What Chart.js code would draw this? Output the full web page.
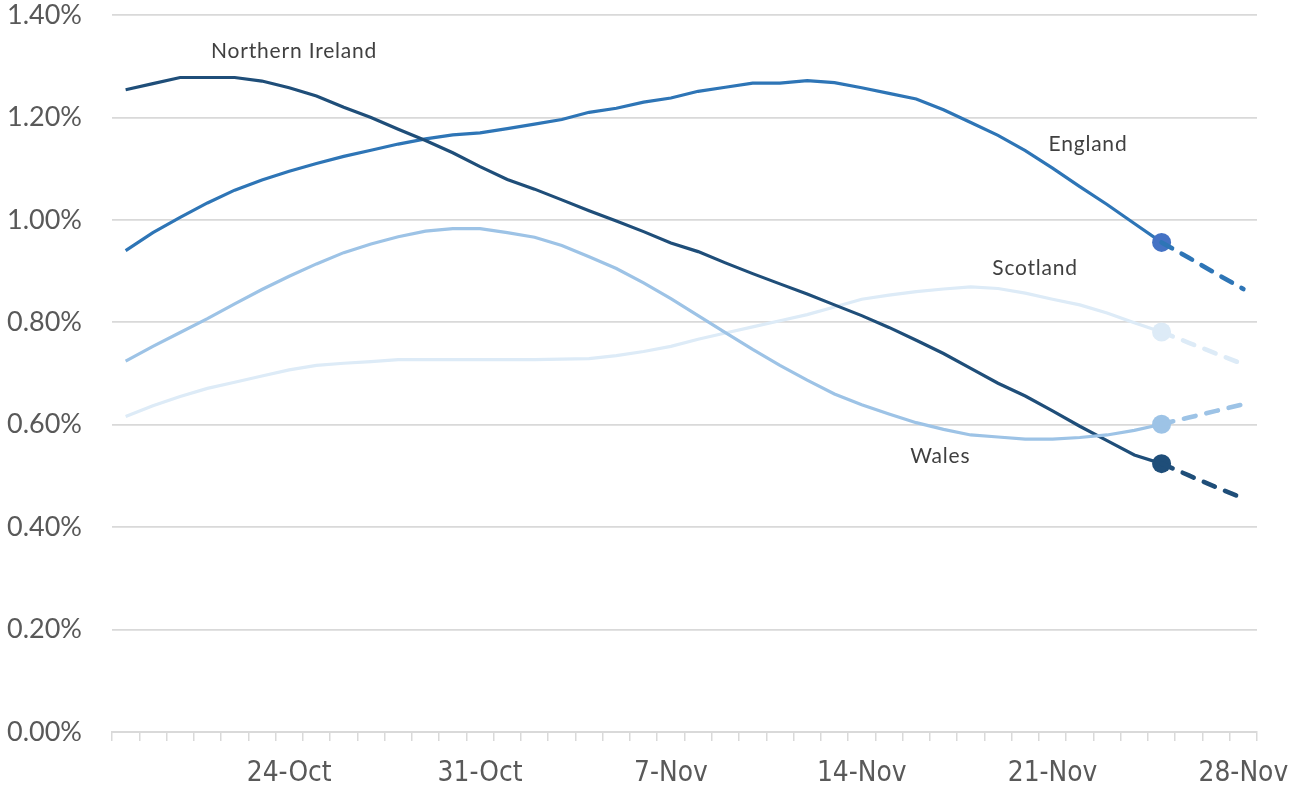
<!DOCTYPE html>
<html><head><meta charset="utf-8">
<script src="https://cdn.jsdelivr.net/npm/chart.js@4"></script>
<style>html,body{margin:0;padding:0;background:#fff}#wrap{width:1291px;height:787px;position:relative}</style>
</head><body><div id="wrap"><canvas id="c"></canvas></div>
<script>
// Category labels: one per day
const dates = ['18-Oct','19-Oct','20-Oct','21-Oct','22-Oct','23-Oct','24-Oct','25-Oct','26-Oct','27-Oct','28-Oct','29-Oct','30-Oct','31-Oct',
  '1-Nov','2-Nov','3-Nov','4-Nov','5-Nov','6-Nov','7-Nov','8-Nov','9-Nov','10-Nov','11-Nov','12-Nov','13-Nov','14-Nov',
  '15-Nov','16-Nov','17-Nov','18-Nov','19-Nov','20-Nov','21-Nov','22-Nov','23-Nov','24-Nov','25-Nov','26-Nov','27-Nov','28-Nov'];
// Tick labels shown on the x axis
const shownTicks = ['24-Oct','31-Oct','7-Nov','14-Nov','21-Nov','28-Nov'];

// Observed series (18-Oct .. 25-Nov), values in %
const england = [0.940,0.975,1.005,1.033,1.058,1.078,1.095,1.110,1.124,1.136,1.148,1.158,1.166,1.170,
  1.178,1.187,1.196,1.210,1.218,1.230,1.238,1.251,1.259,1.267,1.267,1.272,1.268,1.258,
  1.247,1.236,1.215,1.190,1.165,1.135,1.101,1.065,1.030,0.993,0.956];
const northernIreland = [1.254,1.266,1.278,1.278,1.278,1.271,1.258,1.242,1.220,1.200,1.177,1.155,1.131,1.104,
  1.079,1.060,1.039,1.018,0.998,0.977,0.955,0.938,0.916,0.895,0.875,0.855,0.834,0.813,
  0.790,0.765,0.739,0.710,0.681,0.656,0.627,0.597,0.569,0.541,0.524];
const wales = [0.724,0.753,0.780,0.807,0.836,0.864,0.890,0.914,0.936,0.953,0.967,0.978,0.983,0.983,
  0.975,0.966,0.950,0.928,0.905,0.877,0.846,0.813,0.780,0.747,0.716,0.687,0.660,0.639,
  0.621,0.604,0.591,0.580,0.576,0.572,0.572,0.575,0.580,0.589,0.601];
const scotland = [0.616,0.637,0.655,0.671,0.683,0.695,0.707,0.716,0.720,0.723,0.727,0.727,0.727,0.727,
  0.727,0.727,0.728,0.729,0.735,0.743,0.753,0.767,0.779,0.791,0.803,0.815,0.830,0.845,
  0.853,0.860,0.865,0.869,0.866,0.857,0.845,0.834,0.818,0.799,0.781];

// Projected series (25-Nov .. 28-Nov), values in %
const englandProj = [0.956,0.926,0.895,0.865];
const northernIrelandProj = [0.524,0.501,0.478,0.456];
const walesProj = [0.601,0.614,0.627,0.640];
const scotlandProj = [0.781,0.760,0.739,0.718];

// Series name labels: [text, category index position, value position]
const seriesLabels = [
  ['Northern Ireland', 6.18, 1.330],
  ['England', 35.3, 1.148],
  ['Scotland', 33.36, 0.906],
  ['Wales', 29.88, 0.539]
];

const N = dates.length;
const lastObs = england.length - 1;
function observed(arr){ const out = new Array(N).fill(null); arr.forEach((v,i)=>out[i]=v); return out; }
function projected(arr){ const out = new Array(N).fill(null); arr.forEach((v,i)=>out[lastObs+i]=v); return out; }

// pick a narrow font for the date labels if one is installed
function pickNarrow(){
  const c = document.createElement('canvas').getContext('2d');
  const cands = ['Liberation Sans Narrow','DejaVu Sans Condensed','Arial Narrow','Roboto Condensed','Open Sans Condensed','Noto Sans Condensed'];
  for (const f of cands){
    c.font = '40px monospace'; const w0 = c.measureText('24-Oct xyz').width;
    c.font = '40px "'+f+'", monospace'; const w1 = c.measureText('24-Oct xyz').width;
    if (Math.abs(w1-w0) > 0.5) return f;
  }
  return 'Lato';
}
const xFamily = pickNarrow();
const xSize = (function(){
  const c = document.createElement('canvas').getContext('2d');
  c.font = '100px "'+xFamily+'"';
  const w = c.measureText('24-Oct').width;
  return Math.min(34, Math.round(85 / w * 100 * 10)/10);
})();

const C = {eng:'#2E75B6', engMarker:'#4472C4', ni:'#1F4E79', wal:'#9DC3E6', sco:'#DDEBF7'};

function solid(label, arr, color, marker){
  return {label, data: observed(arr), borderColor: color, borderWidth: 3.2, tension: 0,
    pointRadius: ctx => ctx.dataIndex === lastObs ? 9.5 : 0,
    pointBackgroundColor: marker, pointBorderWidth: 0, pointHoverRadius: 0, fill:false};
}
function dashed(label, arr, color){
  return {label, data: projected(arr), borderColor: color, borderWidth: 4.6, borderDash:[12,11],
    borderCapStyle:'round', tension:0, pointRadius:0, fill:false};
}

const labelPlugin = {
  id:'seriesLabels',
  afterDatasetsDraw(chart){
    const {ctx, scales:{x,y}} = chart;
    ctx.save();
    ctx.font = '21px Lato';
    ctx.fillStyle = '#404040';
    ctx.textAlign = 'center';
    ctx.textBaseline = 'middle';
    try { ctx.letterSpacing = '0.8px'; } catch(e){}
    seriesLabels.forEach(([t,xi,v]) => ctx.fillText(t, x.getPixelForValue(xi), y.getPixelForValue(v)));
    ctx.restore();
  }
};

new Chart(document.getElementById('c'), {
  type:'line',
  data:{
    labels: dates,
    datasets:[
      dashed('Wales proj', walesProj, C.wal),
      dashed('Northern Ireland proj', northernIrelandProj, C.ni),
      dashed('England proj', englandProj, C.eng),
      dashed('Scotland proj', scotlandProj, C.sco),
      solid('Wales', wales, C.wal, C.wal),
      solid('Northern Ireland', northernIreland, C.ni, C.ni),
      solid('England', england, C.eng, C.engMarker),
      solid('Scotland', scotland, C.sco, C.sco)
    ]
  },
  options:{
    responsive:true, maintainAspectRatio:false, animation:false, devicePixelRatio:1,
    layout:{padding:{left:0, right:34, top:15, bottom:0}},
    plugins:{legend:{display:false}, tooltip:{enabled:false}},
    scales:{
      x:{
        type:'category', offset:true,
        grid:{offset:true, drawOnChartArea:false, drawTicks:true, tickLength:9, color:'#D9D9D9', lineWidth:1.5},
        border:{display:true, color:'#D9D9D9', width:2},
        ticks:{autoSkip:false, maxRotation:0, minRotation:0, padding:0, color:'#595959',
          font:{family:'"'+xFamily+'"', size:xSize, lineHeight:'65px'},
          callback:(v,i)=> shownTicks.includes(dates[i]) ? dates[i] : ''},
        afterFit: s => { s.height = 55; }
      },
      y:{
        min:0, max:1.4,
        grid:{color:'#D9D9D9', lineWidth:1.8, drawTicks:true, tickLength:30, tickColor:'rgba(0,0,0,0)'},
        border:{display:false},
        ticks:{stepSize:0.2, padding:0, color:'#595959', font:{family:'Lato', size:27, lineHeight:1},
          callback:v => v.toFixed(2)+'%'},
        afterFit: s => { s.width = 112; }
      }
    }
  },
  plugins:[labelPlugin]
});
</script></body></html>
